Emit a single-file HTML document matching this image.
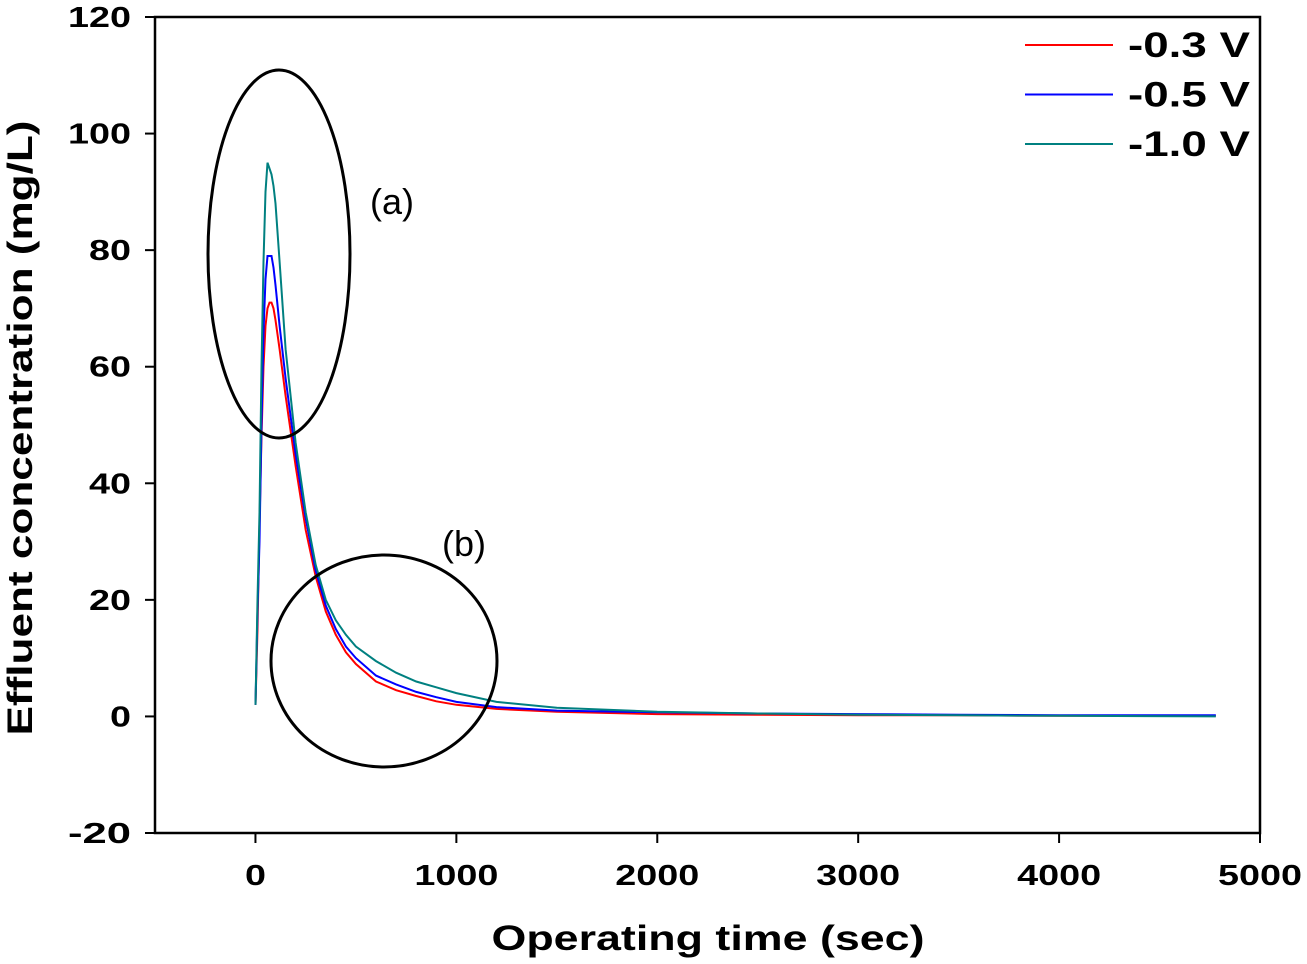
<!DOCTYPE html>
<html><head><meta charset="utf-8"><style>
body{margin:0;background:#fff}
svg text{font-family:"Liberation Sans",sans-serif}
</style></head><body>
<svg id="chart" width="1307" height="959">
</svg>
<script>
const times=[0,10,20,30,40,50,60,70,80,90,100,120,150,200,250,300,350,400,450,500,600,700,800,900,1000,1200,1500,2000,2500,3000,3500,4000,4780];
const red=[2,15,33,48,60,67,70,71,71,70,68,63,55,43,32,24,18,14,11,9,6,4.5,3.5,2.6,2,1.3,0.8,0.4,0.3,0.2,0.2,0.1,0.1];
const blue=[2,18,30,50,66,75,79,79,79,77,74,67,58,45,34,25,19,15,12,10,7,5.5,4.2,3.3,2.5,1.6,1,0.7,0.5,0.4,0.3,0.2,0.2];
const teal=[2,20,35,60,78,90,95,94,93,91,88,78,63,47,35,26,20,16.5,14,12,9.5,7.5,6,5,4,2.5,1.5,0.8,0.5,0.3,0.2,0.1,0.0];
const xTicks=[0,1000,2000,3000,4000,5000];
const yTicks=[-20,0,20,40,60,80,100,120];
const seriesNames=["-0.3 V","-0.5 V","-1.0 V"];
const colors=["#ff0000","#0000ff","#008080"];
const L=155,R=1260,T=17,B=833;
const x=v=>L+(v+500)/5500*(R-L);
const y=v=>B-(v+20)/140*(B-T);
const svg=document.getElementById('chart');
const NS='http://www.w3.org/2000/svg';
function mk(tag,attrs,text){const e=document.createElementNS(NS,tag);for(const k in attrs)e.setAttribute(k,attrs[k]);if(text!==undefined)e.textContent=text;svg.appendChild(e);return e;}
let f=mk('rect',{x:L,y:T,width:R-L,height:B-T,fill:'none',stroke:'#000','stroke-width':2.5});


xTicks.forEach(t=>{
 let l=mk('line',{x1:x(t),x2:x(t),y1:B,y2:B+10,stroke:'#000','stroke-width':2});
 
 
 let s=String(t);
 let tx=mk('text',{x:x(t),y:B+52,'text-anchor':'middle','font-size':29,'font-weight':'bold',textLength:s.length*21,lengthAdjust:'spacingAndGlyphs'},s);
 
 
});
yTicks.forEach(t=>{
 let l=mk('line',{x1:L-10,x2:L,y1:y(t),y2:y(t),stroke:'#000','stroke-width':2});
 
 
 let s=String(t);
 let tx=mk('text',{x:L-24,y:y(t)+10,'text-anchor':'end','font-size':29,'font-weight':'bold',textLength:s.length*21,lengthAdjust:'spacingAndGlyphs'},s);
 
 
});
[red,blue,teal].forEach((s,i)=>{
 let pts=[];
 for(let k=0;k<times.length;k++){
  pts.push(x(times[k]).toFixed(1)+','+y(s[k]).toFixed(1));
 }
 let p=mk('polyline',{points:pts.join(' '),fill:'none',stroke:colors[i],'stroke-width':2});
 
 
 let ly=45+i*49.5;
 let ll=mk('line',{x1:1025,x2:1113,y1:ly,y2:ly,stroke:colors[i],'stroke-width':2});
 
 
 let lt=mk('text',{x:1128,y:ly+12,'font-size':35,'font-weight':'bold',textLength:122,lengthAdjust:'spacingAndGlyphs'},seriesNames[i]);
 
 
});
let ea=mk('ellipse',{cx:279,cy:254,rx:71,ry:184,fill:'none',stroke:'#000','stroke-width':3});


let eb=mk('ellipse',{cx:384,cy:661,rx:113,ry:106,fill:'none',stroke:'#000','stroke-width':3});


let ta=mk('text',{x:370,y:214,'font-size':36},'(a)');


let tb=mk('text',{x:442,y:556,'font-size':36},'(b)');


let xt=mk('text',{x:708,y:950,'text-anchor':'middle','font-size':35,'font-weight':'bold',textLength:433,lengthAdjust:'spacingAndGlyphs'},'Operating time (sec)');


let yt=mk('text',{x:0,y:0,'text-anchor':'middle','font-size':35,'font-weight':'bold',textLength:615,lengthAdjust:'spacingAndGlyphs',transform:'translate(32,428) rotate(-90)'},'Effluent concentration (mg/L)');


</script>
</body></html>
